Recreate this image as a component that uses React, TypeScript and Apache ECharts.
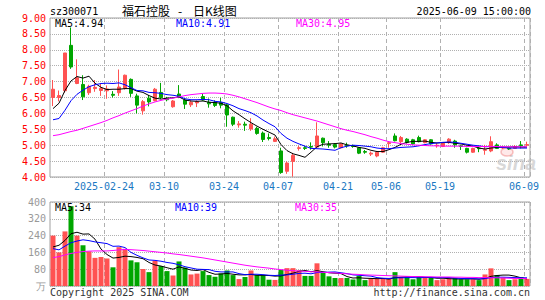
import React, { useEffect, useRef } from "react";
import * as echarts from "echarts";

const dates = [
  "2025-02-11","2025-02-12","2025-02-13","2025-02-14","2025-02-17","2025-02-18","2025-02-19","2025-02-20","2025-02-21","2025-02-24","2025-02-25","2025-02-26","2025-02-27","2025-02-28",
  "2025-03-03","2025-03-04","2025-03-05","2025-03-06","2025-03-07","2025-03-10","2025-03-11","2025-03-12","2025-03-13","2025-03-14","2025-03-17","2025-03-18","2025-03-19","2025-03-20","2025-03-21","2025-03-24","2025-03-25","2025-03-26","2025-03-27","2025-03-28","2025-03-31",
  "2025-04-01","2025-04-02","2025-04-03","2025-04-07","2025-04-08","2025-04-09","2025-04-10","2025-04-11","2025-04-14","2025-04-15","2025-04-16","2025-04-17","2025-04-18","2025-04-21","2025-04-22","2025-04-23","2025-04-24","2025-04-25","2025-04-28","2025-04-29","2025-04-30",
  "2025-05-06","2025-05-07","2025-05-08","2025-05-09","2025-05-12","2025-05-13","2025-05-14","2025-05-15","2025-05-16","2025-05-19","2025-05-20","2025-05-21","2025-05-22","2025-05-23","2025-05-26","2025-05-27","2025-05-28","2025-05-29","2025-05-30",
  "2025-06-03","2025-06-04","2025-06-05","2025-06-06","2025-06-09",
];

const tickDates = ["2025-02-24","2025-03-10","2025-03-24","2025-04-07","2025-04-21","2025-05-06","2025-05-19","2025-06-09"];

const opens = [
  6.50,6.50,6.71,8.14,6.94,6.91,6.65,6.78,6.72,6.71,
  6.60,6.65,6.79,7.07,6.55,6.08,6.48,6.40,6.66,6.48,
  6.21,6.61,6.42,6.27,6.33,6.53,6.35,6.35,6.34,6.27,
  5.88,5.64,5.66,5.51,5.53,5.38,5.24,5.12,4.82,4.18,
  4.49,4.90,4.92,4.96,4.94,5.22,5.03,5.02,4.92,5.00,
  4.98,4.92,4.80,4.72,4.66,4.78,5.05,5.29,5.11,5.19,
  5.17,5.24,5.08,5.17,4.98,4.96,5.08,5.13,4.98,4.90,
  4.78,4.91,4.84,4.82,5.01,4.91,4.90,4.90,5.01,5.00,
];
const closes = [
  6.76,6.56,7.90,7.46,7.12,6.52,6.85,6.82,6.79,6.77,
  6.57,6.83,7.20,6.63,6.26,6.37,6.36,6.76,6.50,6.43,
  6.39,6.51,6.29,6.35,6.37,6.42,6.30,6.25,6.26,5.95,
  5.66,5.67,5.63,5.66,5.37,5.18,5.21,5.20,4.14,4.44,
  4.68,4.92,4.90,4.94,5.29,5.08,5.00,4.94,5.04,4.98,
  4.96,4.75,4.78,4.75,4.78,4.92,5.08,5.14,5.24,5.09,
  5.04,5.11,5.17,5.04,5.00,5.06,5.19,5.01,4.96,4.78,
  4.90,4.89,4.86,5.11,4.90,4.93,4.88,4.95,4.99,5.02,
];
const lows = [
  6.23,6.38,6.65,7.40,6.92,6.42,6.58,6.68,6.55,6.46,
  6.50,6.55,6.75,6.52,6.00,5.96,6.22,6.38,6.45,6.38,
  6.18,6.48,6.14,6.20,6.20,6.40,6.18,6.20,6.16,5.58,
  5.60,5.55,5.45,5.45,5.33,5.10,5.15,5.10,4.10,4.10,
  4.01,4.83,4.85,4.86,4.92,4.96,4.92,4.90,4.90,4.92,
  4.92,4.72,4.73,4.66,4.62,4.76,4.92,5.12,5.07,5.05,
  5.02,5.09,5.06,5.02,4.92,4.94,5.04,4.92,4.85,4.74,
  4.76,4.78,4.70,4.78,4.88,4.88,4.85,4.88,4.90,4.98,
];
const highs = [
  7.05,6.72,7.90,8.70,7.70,7.20,6.90,7.05,6.93,6.88,
  6.70,7.38,7.22,7.10,6.62,6.42,6.58,6.80,6.96,6.52,
  6.42,6.89,6.47,6.41,6.41,6.63,6.47,6.41,6.49,6.30,
  5.90,5.76,5.74,5.85,5.58,5.43,5.37,5.27,4.92,4.49,
  4.76,4.98,4.97,5.09,5.72,5.24,5.13,5.06,5.06,5.08,
  5.02,4.94,4.85,4.80,4.82,4.95,5.13,5.37,5.29,5.22,
  5.20,5.30,5.19,5.19,5.06,5.08,5.22,5.17,5.01,4.92,
  4.92,4.96,5.01,5.28,5.06,4.96,4.92,5.00,5.13,5.11,
];

const ma5 = [
  6.15,6.32,6.72,7.02,7.16,7.11,7.17,6.95,6.82,6.75,
  6.76,6.76,6.78,6.78,6.70,6.66,6.56,6.48,6.45,6.48,
  6.49,6.52,6.42,6.39,6.38,6.39,6.35,6.34,6.32,6.24,
  6.08,5.96,5.83,5.71,5.60,5.50,5.41,5.32,5.02,4.83,
  4.73,4.68,4.62,4.78,4.95,5.03,5.04,5.05,5.07,5.01,
  4.98,4.93,4.90,4.84,4.80,4.80,4.86,4.93,5.03,5.09,
  5.12,5.12,5.13,5.09,5.07,5.08,5.09,5.06,5.04,5.00,
  4.97,4.91,4.88,4.91,4.93,4.94,4.94,4.95,4.94,4.94,
];
const ma10 = [
  5.80,5.84,6.10,6.40,6.60,6.73,6.84,6.90,6.94,6.95,
  6.94,6.96,6.90,6.81,6.72,6.71,6.66,6.65,6.63,6.59,
  6.57,6.54,6.46,6.43,6.43,6.44,6.43,6.38,6.36,6.31,
  6.24,6.15,6.09,6.02,5.92,5.79,5.68,5.58,5.37,5.22,
  5.12,5.04,4.97,4.90,4.89,4.88,4.86,4.84,4.92,4.97,
  5.00,4.99,4.97,4.95,4.91,4.89,4.89,4.91,4.93,4.94,
  4.95,4.98,5.02,5.05,5.07,5.09,5.10,5.09,5.06,5.03,
  5.00,4.98,4.95,4.96,4.95,4.93,4.91,4.91,4.91,4.91,
];
const ma30 = [
  5.30,5.33,5.38,5.43,5.47,5.53,5.59,5.65,5.71,5.78,
  5.86,5.93,6.01,6.08,6.15,6.23,6.30,6.36,6.41,6.45,
  6.48,6.52,6.56,6.59,6.61,6.63,6.64,6.64,6.63,6.61,
  6.57,6.52,6.46,6.40,6.34,6.27,6.20,6.14,6.09,6.02,
  5.96,5.91,5.86,5.81,5.76,5.70,5.64,5.58,5.52,5.47,
  5.43,5.38,5.33,5.27,5.22,5.16,5.11,5.08,5.05,5.03,
  5.01,5.00,4.99,4.98,4.98,4.97,4.97,4.97,4.97,4.96,
  4.96,4.96,4.96,4.96,4.96,4.95,4.95,4.95,4.95,4.95,
];

const volumes = [
  240,160,260,380,240,194,165,134,138,131,
  89,185,177,122,113,81,66,120,95,71,
  50,117,88,55,59,71,52,44,60,74,
  52,33,43,74,52,52,30,29,77,85,
  85,75,48,48,108,63,46,38,38,38,
  31,48,28,34,34,34,34,66,43,43,
  32,43,43,38,28,32,35,38,32,32,
  32,28,55,84,52,40,28,32,42,34,
];
const vma5 = [
  186,194,217,249,256,247,248,223,176,150,
  133,136,142,140,136,130,112,100,95,87,
  80,91,84,76,74,78,65,56,57,60,
  56,53,53,55,51,51,50,47,48,55,
  61,70,74,68,73,68,63,61,59,45,
  38,39,37,36,35,36,33,40,42,44,
  44,45,41,40,37,37,35,34,33,34,
  34,32,36,46,50,52,52,47,39,34,
];
const vma10 = [
  178,172,190,206,214,220,216,210,206,202,
  189,190,183,160,146,134,124,122,118,112,
  108,101,92,86,80,79,78,70,67,67,
  67,59,54,56,56,54,51,50,52,53,
  56,60,61,58,64,65,66,67,63,59,
  53,51,49,47,40,37,36,39,39,40,
  40,39,41,41,40,40,40,38,36,35,
  35,34,35,40,42,42,41,40,39,39,
];
const vma30 = [
  135,140,148,155,160,164,166,167,167,167,
  169,172,174,173,171,169,166,163,160,157,
  153,150,146,142,138,134,129,124,119,114,
  109,104,99,95,91,88,85,81,78,75,
  73,71,70,68,67,65,64,62,60,58,
  56,55,53,52,51,50,49,48,47,46,
  45,45,44,44,43,43,43,42,42,41,
  41,40,40,39,39,38,37,36,36,35,
];

const RED = "#ff5252";
const GREEN = "#00a600";
const MONO = "'DejaVu Sans Mono', monospace";
const CJK = "'Noto Sans CJK SC', sans-serif";

export default function App() {
  const ref = useRef<HTMLDivElement>(null);
  useEffect(() => {
    if (!ref.current) return;
    const chart = echarts.init(ref.current, null, { renderer: "svg" });
    const isTick = (i: number) => tickDates.includes(dates[i]);
    const kdata = dates.map((_, i) => [opens[i], closes[i], lows[i], highs[i]]);
    const vdata = volumes.map((v, i) => ({
      value: v,
      itemStyle: { color: closes[i] >= opens[i] ? RED : GREEN },
    }));
    const last = (a: number[]) => a[a.length - 1];
    const xCommon = (gi: number, showLabel: boolean) => ({
      type: "category",
      gridIndex: gi,
      data: dates,
      boundaryGap: true,
      axisLine: { show: false },
      axisTick: { show: false },
      axisLabel: {
        show: showLabel,
        interval: (i: number) => isTick(i),
        formatter: (v: string) => (v === tickDates[0] ? v : v.slice(5)),
        color: "#1a78c2",
        fontFamily: MONO,
        fontSize: 10,
        margin: 4,
        padding: [0, 6, 0, 0],
      },
      splitLine: {
        show: true,
        interval: (i: number) => isTick(i),
        lineStyle: { color: "#b0b0b0", type: [4, 3], width: 1 },
      },
    });
    const line = (name: string, data: number[], color: string, xi: number) => ({
      name,
      type: "line",
      xAxisIndex: xi,
      yAxisIndex: xi,
      data,
      showSymbol: false,
      symbol: "none",
      silent: true,
      lineStyle: { color, width: 1 },
      z: 5,
    });
    const txt = (text: string, x: number, y: number, fill: string, font = `10px ${MONO}`, align = "left") => ({
      type: "text",
      x,
      y,
      z: 20,
      style: { text, fill, font, textAlign: align, textVerticalAlign: "middle" },
    });
    chart.setOption({
      animation: false,
      backgroundColor: "#ffffff",
      grid: [
        { left: 50, top: 18, width: 480, height: 159, show: true, borderColor: "#a0a0a0", borderWidth: 1 },
        { left: 50, top: 202, width: 480, height: 84, show: true, borderColor: "#a0a0a0", borderWidth: 1 },
      ],
      xAxis: [xCommon(0, true), xCommon(1, false)],
      yAxis: [
        {
          type: "value",
          gridIndex: 0,
          min: 4,
          max: 9,
          interval: 0.5,
          axisLine: { show: false },
          axisTick: { show: false },
          axisLabel: { color: "#ff0000", fontFamily: MONO, fontSize: 10, margin: 4, formatter: (v: number) => v.toFixed(2) },
          splitLine: { lineStyle: { color: "#b0b0b0", type: "dotted" } },
        },
        {
          type: "value",
          gridIndex: 1,
          min: 0,
          max: 400,
          interval: 80,
          axisLine: { show: false },
          axisTick: { show: false },
          axisLabel: { color: "#999999", fontFamily: MONO, fontSize: 10, margin: 4, formatter: (v: number) => (v === 0 ? "万" : String(v)) },
          splitLine: { lineStyle: { color: "#b0b0b0", type: "dotted" } },
        },
      ],
      series: [
        {
          type: "candlestick",
          xAxisIndex: 0,
          yAxisIndex: 0,
          data: kdata,
          barWidth: 4,
          itemStyle: { color: RED, color0: GREEN, borderColor: RED, borderColor0: GREEN, borderWidth: 1 },
          z: 3,
        },
        line("MA5", ma5, "#000000", 0),
        line("MA10", ma10, "#0000ff", 0),
        line("MA30", ma30, "#ff00ff", 0),
        {
          type: "bar",
          xAxisIndex: 1,
          yAxisIndex: 1,
          data: vdata,
          barWidth: 5,
          z: 3,
        },
        line("VMA5", vma5, "#000000", 1),
        line("VMA10", vma10, "#0000ff", 1),
        line("VMA30", vma30, "#ff00ff", 1),
      ],
      graphic: [
        txt("sz300071", 50, 11, "#000000"),
        txt("福石控股   -    日K线图", 122, 10, "#000000", `12px ${CJK}`),
        txt("2025-06-09 15:00:00", 531, 11, "#000000", `10px ${MONO}`, "right"),
        txt(`MA5:${last(ma5).toFixed(2)}`, 55, 23.5, "#000000"),
        txt(`MA10:${last(ma10).toFixed(2)}`, 176, 23.5, "#0000ff"),
        txt(`MA30:${last(ma30).toFixed(2)}`, 296, 23.5, "#ff00ff"),
        txt(`MA5:${last(vma5)}`, 55, 207, "#000000"),
        txt(`MA10:${last(vma10)}`, 175, 207, "#0000ff"),
        txt(`MA30:${last(vma30)}`, 295, 207, "#ff00ff"),
        txt("Copyright 2025 SINA.COM", 50, 292, "#333333"),
        txt("http://finance.sina.com.cn", 530, 292, "#333333", `10px ${MONO}`, "right"),
        {
          type: "text",
          x: 496,
          y: 163,
          z: 1,
          style: {
            text: "sina",
            fill: "rgba(190,190,190,0.6)",
            font: "italic bold 20px 'Liberation Sans', sans-serif",
            textVerticalAlign: "middle",
          },
        },
        {
          type: "ellipse",
          z: 1,
          shape: { cx: 507, cy: 152, rx: 6, ry: 4 },
          style: { fill: "rgba(255,200,200,0.4)", stroke: "rgba(240,130,130,0.5)", lineWidth: 1.5 },
        },
      ],
    });
    return () => chart.dispose();
  }, []);
  return (
    <div
      ref={ref}
      style={{ position: "fixed", left: 0, top: 0, width: 545, height: 300, background: "#fff" }}
    />
  );
}
